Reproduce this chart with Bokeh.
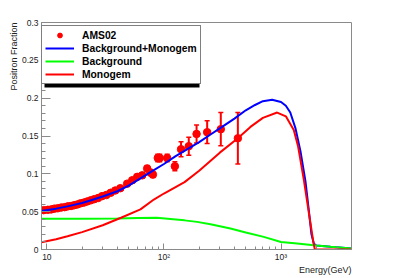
from bokeh.plotting import figure
from bokeh.models import (Range1d, FixedTicker, Legend, LegendItem, Title,
                          BoxAnnotation, ColumnDataSource)
from bokeh.embed import file_html
from bokeh.resources import INLINE

# ---- data ----
# AMS02 positron fraction points
ams_e = [9.4, 10.2, 10.9, 11.6, 12.4, 13.3, 14.2, 15.1, 16.1, 17.1, 18.2, 19.4,
         20.7, 22.1, 23.7, 25.4, 27.4, 29.6, 32.2, 35.1, 38.4, 42.4, 48.5, 53.6,
         59.1, 65.2, 71.9, 76.7, 80.5, 88.6, 92.1, 106.6, 124.0, 140.0, 163.0,
         190.0, 234.0, 306.0, 428.0]
ams_f = [0.052, 0.0525, 0.053, 0.054, 0.0545, 0.0555, 0.056, 0.057, 0.0575,
         0.0585, 0.0595, 0.061, 0.062, 0.0635, 0.065, 0.0665, 0.068, 0.0705,
         0.072, 0.075, 0.078, 0.081, 0.087, 0.0915, 0.096, 0.098, 0.107, 0.1017,
         0.099, 0.121, 0.121, 0.121, 0.110, 0.1325, 0.1365, 0.1527, 0.155,
         0.159, 0.147]
ams_err = [0.0015, 0.0015, 0.0015, 0.0015, 0.0015, 0.0015, 0.0015, 0.0015,
           0.0015, 0.0015, 0.0015, 0.0015, 0.0015, 0.0015, 0.0015, 0.0015,
           0.0015, 0.0015, 0.002, 0.002, 0.002, 0.002, 0.0025, 0.003, 0.003,
           0.0035, 0.004, 0.004, 0.004, 0.005, 0.005, 0.005, 0.006, 0.010,
           0.012, 0.012, 0.015, 0.022, 0.034]

# Background + Monogem (blue)
tot_e = [9, 12, 15, 20, 25, 30, 40, 50, 63, 80, 100, 125, 160, 200, 250, 300,
         400, 500, 600, 700, 840, 1000, 1100, 1200, 1330, 1466, 1618, 1727,
         1820, 1905, 1950, 2000, 2650, 4000]
tot_f = [0.051, 0.054, 0.057, 0.0615, 0.066, 0.070, 0.077, 0.0845, 0.094,
         0.104, 0.113, 0.123, 0.133, 0.142, 0.152, 0.160, 0.173, 0.184, 0.191,
         0.196, 0.198, 0.195, 0.190, 0.181, 0.160, 0.130, 0.090, 0.052, 0.020,
         0.008, 0.0065, 0.0052, 0.0035, 0.0013]

# Background (green)
bg_e = [9, 20, 40, 60, 87, 120, 150, 192, 250, 370, 500, 712, 1000, 1374,
        2000, 2649, 4000]
bg_f = [0.0405, 0.0405, 0.041, 0.0415, 0.0418, 0.0400, 0.0385, 0.0365, 0.0335,
        0.0277, 0.0225, 0.0167, 0.0100, 0.0079, 0.0052, 0.0035, 0.0013]

# Monogem (red)
mono_e = [9, 12, 15, 20, 30, 43, 63, 82, 100, 150, 200, 300, 428, 548, 700,
          927, 1100, 1285, 1400, 1567, 1700, 1787, 1880, 1944, 2000, 4000]
mono_f = [0.0097, 0.0135, 0.0175, 0.023, 0.032, 0.042, 0.053, 0.066, 0.074,
          0.089, 0.104, 0.128, 0.147, 0.162, 0.174, 0.181, 0.176, 0.158, 0.136,
          0.092, 0.056, 0.034, 0.012, 0.0, 0.0, 0.0]

y_ticks = [0, 0.05, 0.1, 0.15, 0.2, 0.25, 0.3]
y_tick_labels = ["0", "0.05", "0.1", "0.15", "0.2", "0.25", "0.3"]
x_ticks = [10, 100, 1000]
x_tick_labels = ["10", "10\u00b2", "10\u00b3"]

FONT = "Liberation Sans"
GRAY = "#8a8a8a"
TXT = "#222222"

p = figure(frame_width=310, frame_height=227, x_axis_type="log",
           x_range=Range1d(9, 4000), y_range=Range1d(0, 0.3),
           output_backend="svg", toolbar_location=None,
           min_border_left=41, min_border_right=58, min_border_top=22,
           min_border_bottom=28)
p.background_fill_color = "white"
p.border_fill_color = "white"
p.outline_line_color = GRAY
p.outline_line_width = 1
p.xgrid.visible = False
p.ygrid.visible = False

minor_x = [20, 30, 40, 50, 60, 70, 80, 90, 200, 300, 400, 500, 600, 700, 800,
           900, 2000, 3000, 4000]
minor_y = [round(0.01 * i, 2) for i in range(1, 30) if i % 5 != 0]
p.xaxis.ticker = FixedTicker(ticks=x_ticks, minor_ticks=minor_x)
p.yaxis.ticker = FixedTicker(ticks=y_ticks, minor_ticks=minor_y)
p.xaxis.major_label_overrides = dict(zip(x_ticks, x_tick_labels))
p.yaxis.major_label_overrides = dict(zip(y_ticks, y_tick_labels))

for ax in (p.xaxis, p.yaxis):
    ax.axis_line_color = GRAY
    ax.major_tick_line_color = GRAY
    ax.minor_tick_line_color = GRAY
    ax.major_tick_out = 0
    ax.minor_tick_out = 0
    ax.major_label_text_font = FONT
    ax.major_label_text_font_size = "8.5px"
    ax.major_label_text_color = TXT
p.xaxis.major_tick_in = 6
p.xaxis.minor_tick_in = 3
p.yaxis.major_tick_in = 9
p.yaxis.minor_tick_in = 4
p.xaxis.major_label_standoff = 2
p.yaxis.major_label_standoff = 3

# data points with error bars
src = ColumnDataSource(dict(
    e=ams_e, f=ams_f,
    lo=[f - d for f, d in zip(ams_f, ams_err)],
    hi=[f + d for f, d in zip(ams_f, ams_err)]))
p.segment(x0="e", y0="lo", x1="e", y1="hi", source=src, line_color="red",
          line_width=2)
p.scatter(x="e", y="lo", source=src, marker="dash", size=5, line_color="red",
          line_width=1.5)
p.scatter(x="e", y="hi", source=src, marker="dash", size=5, line_color="red",
          line_width=1.5)
pts = p.scatter(x="e", y="f", source=src, marker="circle", size=7.5,
                fill_color="red", line_color="red")

l_tot = p.line(tot_e, tot_f, line_color="#0000ff", line_width=2)
l_bg = p.line(bg_e, bg_f, line_color="#00ff00", line_width=2)
l_mono = p.line(mono_e, mono_f, line_color="#ff0000", line_width=2)

# legend shadow (frame-relative screen units)
shadow = BoxAnnotation(left=3, right=158, top=219, bottom=162,
                       left_units="screen", right_units="screen",
                       top_units="screen", bottom_units="screen",
                       fill_color="black", fill_alpha=1.0, line_color=None)
p.add_layout(shadow)

legend = Legend(items=[
    LegendItem(label="AMS02", renderers=[pts]),
    LegendItem(label="Background+Monogem", renderers=[l_tot]),
    LegendItem(label="Background", renderers=[l_bg]),
    LegendItem(label="Monogem", renderers=[l_mono]),
], location=(0, 165))
legend.border_line_color = "black"
legend.border_line_width = 1
legend.background_fill_color = "white"
legend.background_fill_alpha = 1.0
legend.label_text_font = FONT
legend.label_text_font_style = "bold"
legend.label_text_font_size = "10.3px"
legend.label_text_color = "black"
legend.glyph_width = 29
legend.glyph_height = 12
legend.label_height = 12
legend.spacing = 1
legend.padding = 3
legend.margin = 0
legend.label_standoff = 8
p.add_layout(legend)

# axis titles (top-aligned / right-aligned like ROOT)
yt = Title(text="Positron Fraction", align="right", text_font=FONT,
           text_font_size="9px", text_font_style="normal", text_color=TXT)
xt = Title(text="Energy(GeV)", align="right", vertical_align="top",
           text_font=FONT, text_font_size="9px", text_font_style="normal",
           text_color=TXT)
for t in (yt, xt):
    if "standoff" in t.properties():
        t.standoff = 0
p.add_layout(yt, "left")
p.add_layout(xt, "below")

open("out.html", "w").write(file_html(p, INLINE))
